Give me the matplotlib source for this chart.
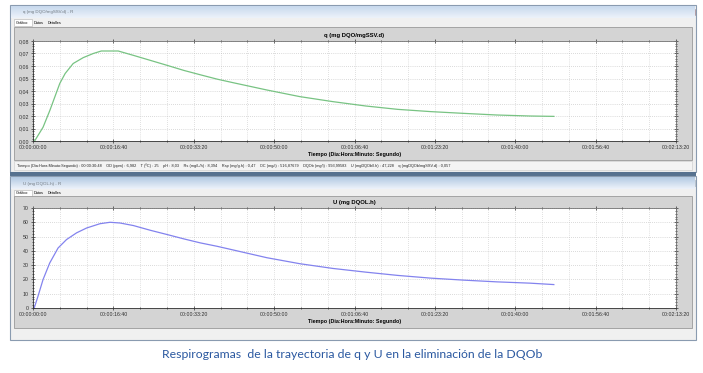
import numpy as np
import matplotlib.pyplot as plt
from matplotlib.patches import Rectangle
from matplotlib.ticker import MultipleLocator, FuncFormatter

# q (mg DQO/mgSSV.d) vs time (s)
q_t = [0, 20, 125, 210, 270, 333, 400, 500, 625, 750, 850, 1060, 1250, 1460,
       1670, 1875, 2080, 2290, 2500, 2910, 3320, 3730, 4140, 4540, 4950, 5360,
       5770, 6180, 6480]
q_v = [0, 0, 0.011, 0.0245, 0.035, 0.046, 0.054, 0.062, 0.0667, 0.070, 0.072,
       0.072, 0.0685, 0.0645, 0.0605, 0.0565, 0.053, 0.0495, 0.0465, 0.0408,
       0.0355, 0.0315, 0.028, 0.0253, 0.0235, 0.0221, 0.0208, 0.0200, 0.0197]

# U (mg DQOL.h) vs time (s)
u_t = [0, 15, 62, 125, 208, 312, 417, 542, 667, 833, 958, 1083, 1250, 1460,
       1670, 1875, 2080, 2290, 2500, 2910, 3320, 3730, 4140, 4540, 4950, 5360,
       5770, 6180, 6480]
u_v = [0, 0, 8.2, 19.9, 31.5, 42, 47.9, 52.6, 56, 59, 60, 59.5, 57.7, 54.4,
       51.4, 48.4, 45.6, 43.2, 40.5, 35.2, 31, 27.7, 25.1, 22.8, 20.9, 19.5,
       18.3, 17.4, 16.4]

status = ("Tiempo (Dia:Hora:Minuto:Segundo) : 00:00:30:48    OD (ppm) : 6,982    "
          "T (ºC) : 25    pH : 8,03    Rs (mg/L/h) : 8,394    Rsp (mg/g.h) : 0,47    "
          "OC (mg/l) : 516,87679    DQOb (mg/l) : 993,99583    U (mgDQOb/l.h) : 47,228    "
          "q (mgDQOb/mgSSV.d) : 0,057")
caption = "Respirogramas  de la trayectoria de q y U en la eliminación de la DQOb"

W, H = 703, 373
plt.rcParams['font.family'] = 'Liberation Sans'
fig = plt.figure(figsize=(W / 100, H / 100), dpi=100)
fig.patch.set_facecolor('white')


def frect(x, y, w, h):
    return [x / W, 1 - (y + h) / H, w / W, h / H]


def box(x, y, w, h, fc, ec='none', lw=0.6, z=0):
    r = Rectangle((x / W, 1 - (y + h) / H), w / W, h / H, transform=fig.transFigure,
                  facecolor=fc, edgecolor=ec, linewidth=lw, zorder=z)
    fig.add_artist(r)


def ftext(x, y, s, **kw):
    fig.text(x / W, 1 - y / H, s, **kw)


def gradient_bar(x, y, w, h, c1, c2):
    ax = fig.add_axes(frect(x, y, w, h))
    grad = np.linspace(0, 1, 50)
    cols = np.array([np.array(c1) * (1 - g) + np.array(c2) * g for g in grad])
    ax.imshow(cols.reshape(-1, 1, 3), aspect='auto', extent=[0, 1, 0, 1])
    ax.set_axis_off()


def window(y0, y1, title, active):
    # frame
    box(10, y0, 686, y1 - y0, '#f0f0f0', '#8a9bb0', 0.8)
    top = (0.78, 0.85, 0.93) if active else (0.70, 0.79, 0.89)
    gradient_bar(11, y0 + 1, 684, 12, top, (0.93, 0.95, 0.98))
    box(13, y0 + 4, 6, 6, '#e0a030')
    ftext(23, y0 + 7.5, title, fontsize=3.2, color='#707880', va='center')
    # window buttons
    box(662, y0 + 4, 11, 6, '#dfe6ee', '#9aa8b8', 0.4)
    box(674, y0 + 4, 11, 6, '#dfe6ee', '#9aa8b8', 0.4)
    box(686, y0 + 4, 9, 6, '#c9473a' if active else '#dfe6ee', '#9aa8b8', 0.4)
    # tabs
    box(14, y0 + 14, 18, 7, 'white', '#b0b0b0', 0.4)
    ftext(16, y0 + 17.5, "Gráfico", fontsize=2.8, va='center')
    ftext(34, y0 + 17.5, "Datos", fontsize=2.8, va='center')
    ftext(48, y0 + 17.5, "Detalles", fontsize=2.8, va='center')


window(5, 172, "q (mg DQO/mgSSV.d) - R", True)
box(10, 172, 686, 4, '#56718f')
window(176, 340, "U (mg DQOL.h) - R", False)

# gray chart panels
box(14, 27, 678, 133, '#d4d4d4', '#9a9a9a', 0.6)
box(14, 196, 678, 132, '#d4d4d4', '#9a9a9a', 0.6)
box(14, 161, 678, 9, '#f4f4f4', '#c8c8c8', 0.4)
ftext(17, 165.5, status, fontsize=2.75, va='center', color='#202020')


def time_fmt(s, pos):
    s = int(round(s))
    return f"00:{s // 3600:02d}:{(s % 3600) // 60:02d}:{s % 60:02d}"


def setup(ax, title, ylim, ystep, yminor, yfmt, color, t, v):
    ax.plot(t, v, color=color, lw=0.9)
    ax.set_xlim(0, 8000)
    ax.set_ylim(*ylim)
    ax.xaxis.set_major_locator(MultipleLocator(1000))
    ax.xaxis.set_minor_locator(MultipleLocator(1000 / 3))
    ax.yaxis.set_major_locator(MultipleLocator(ystep))
    ax.yaxis.set_minor_locator(MultipleLocator(yminor))
    ax.xaxis.set_major_formatter(FuncFormatter(time_fmt))
    ax.yaxis.set_major_formatter(FuncFormatter(yfmt))
    ax.grid(which='major', axis='y', color='#b8b8b8', lw=0.5, ls=(0, (1, 2)))
    ax.grid(which='both', axis='x', color='#c4c4c4', lw=0.5, ls=(0, (1, 2)))
    ax.tick_params(which='both', top=True, right=True, direction='inout',
                   labelsize=3.8, pad=1.5, colors='#303030', width=0.5)
    ax.tick_params(which='major', length=3)
    ax.tick_params(which='minor', length=1.5)
    for s in ax.spines.values():
        s.set_linewidth(0.6)
        s.set_color('#707070')
    ax.spines['left'].set_color('#303030')
    ax.spines['bottom'].set_color('#303030')
    ax.set_title(title, fontsize=4.2, fontweight='bold', pad=3)
    ax.set_xlabel("Tiempo (Dia:Hora:Minuto: Segundo)", fontsize=3.9,
                  fontweight='bold', labelpad=1.5)
    ax.set_facecolor('white')


ax1 = fig.add_axes(frect(33, 41, 643, 100))
setup(ax1, "q (mg DQO/mgSSV.d)", (0, 0.08), 0.01, 0.002,
      lambda v, p: f"{v:.2f}".replace('.', ','), '#78c383', q_t, q_v)

ax2 = fig.add_axes(frect(33, 208, 643, 100))
setup(ax2, "U (mg DQOL.h)", (0, 70), 10, 2,
      lambda v, p: f"{v:.0f}", '#8383ee', u_t, u_v)

fig.text(352 / W, 1 - 355 / H, caption, ha='center', va='center',
         fontsize=8.8, color='#2a58a0', family='Lato')

fig.savefig("out.png", dpi=100)
